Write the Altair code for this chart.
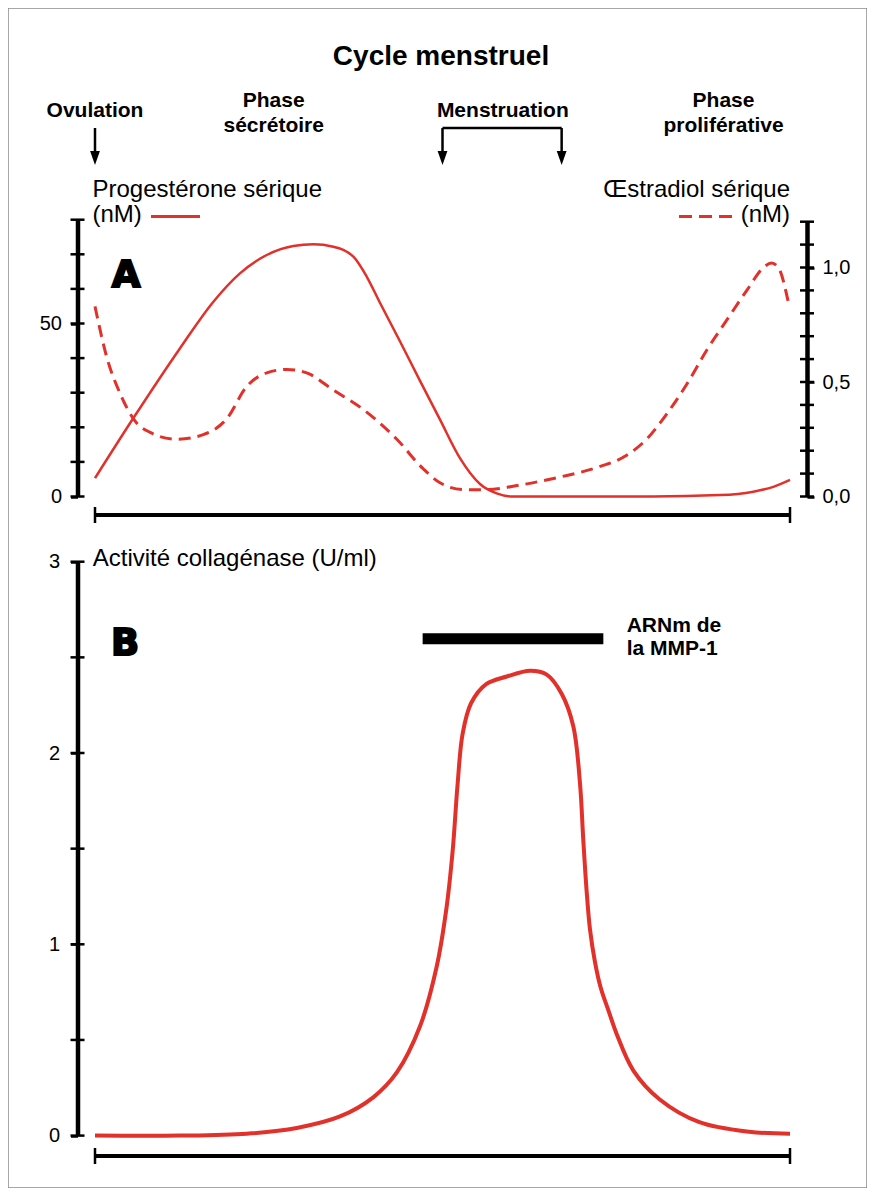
import altair as alt
import pandas as pd

# ---------------- data ----------------
# cycle day (ovulation = day 14, menstruation starts day 28)
prog_day = [14.0, 15.54, 17.42, 18.77, 19.84, 20.92, 21.99, 22.80, 23.60, 24.41, 24.95,
            25.48, 26.29, 27.09, 27.90, 28.71, 29.51, 30.18, 30.85, 33.5, 36.48, 39.18,
            40.52, 41.33, 42.0]
prog_val = [5.3, 22.6, 42.8, 56.3, 64.5, 69.8, 72.4, 72.9, 72.2, 69.3, 63.5,
            56.0, 44.8, 33.5, 22.2, 11.0, 3.6, 0.9, 0.0, 0.0, 0.0, 0.4,
            1.4, 2.8, 4.8]

estr_day = [14.0, 14.47, 15.01, 15.61, 16.22, 17.29, 18.36, 19.31, 20.11, 20.92, 21.72,
            22.53, 23.60, 24.81, 26.16, 27.23, 27.90, 28.84, 29.78, 31.12, 32.73, 34.32,
            35.42, 36.22, 37.03, 37.84, 38.65, 39.45, 40.26, 40.93, 41.26, 41.53, 41.93]
estr_val = [0.83, 0.61, 0.45, 0.33, 0.28, 0.25, 0.27, 0.34, 0.48, 0.54, 0.555,
            0.54, 0.465, 0.38, 0.25, 0.12, 0.06, 0.03, 0.03, 0.05, 0.085, 0.13,
            0.18, 0.25, 0.36, 0.49, 0.64, 0.77, 0.90, 1.00, 1.02, 1.00, 0.85]

coll_day = [14.0, 17.42, 20.11, 22.13, 23.87, 25.21, 26.16, 27.09, 27.76, 28.15, 28.41,
            28.61, 28.81, 29.15, 29.76, 30.59, 31.53, 32.20, 32.80, 33.27, 33.54, 33.67,
            33.80, 33.94, 34.14, 34.38, 34.67, 35.02, 35.69, 36.74, 38.35, 40.36, 42.0]
coll_val = [0.0, 0.0, 0.01, 0.04, 0.10, 0.20, 0.33, 0.57, 0.88, 1.18, 1.49,
            1.84, 2.10, 2.26, 2.36, 2.40, 2.43, 2.41, 2.31, 2.14, 1.84, 1.55,
            1.29, 1.08, 0.91, 0.77, 0.66, 0.53, 0.34, 0.19, 0.07, 0.02, 0.01]

prog_ticks = [0, 10, 20, 30, 40, 50, 60, 70, 80]
prog_labels = [0, 50]
estr_ticks = [0.0, 0.1, 0.2, 0.3, 0.4, 0.5, 0.6, 0.7, 0.8, 0.9, 1.0, 1.1, 1.2]
estr_labels = [0.0, 0.5, 1.0]
coll_ticks = [0, 0.5, 1, 1.5, 2, 2.5, 3]
coll_labels = [0, 1, 2, 3]

cycle_ends = [14, 42]
ovulation_day = [14]
menstruation_days = [28, 32.8]
mmp1_mrna = [27.2, 34.48]

# ---------------- styling ----------------
RED = "#e2302a"
FONT = "Liberation Sans"
ONE = pd.DataFrame({"k": [0]})

x_scale = alt.Scale(domain=[14, 42], range=[87, 782], nice=False, zero=False)
X = alt.X("day:Q", scale=x_scale, axis=None)
X2 = alt.X2("day2:Q")


def axis(orient, offset, values, pad, expr=None):
    kw = dict(orient=orient, offset=offset, values=values, title=None, grid=False,
              domainColor="black", domainWidth=4.5, tickColor="black", tickWidth=2.5,
              tickSize=7, labelFont=FONT, labelFontSize=20, labelColor="black",
              labelPadding=pad, labelFlush=False, labelOverlap=False)
    if expr:
        kw["labelExpr"] = expr
    return alt.Axis(**kw)


sc_p = alt.Scale(domain=[0, 80], range=[488.5, 211.7], nice=False, zero=False)
sc_e = alt.Scale(domain=[0, 1.2], range=[488.5, 213.7], nice=False, zero=False)
sc_c = alt.Scale(domain=[0, 3], range=[1127.6, 553.7], nice=False, zero=False)

Yp = alt.Y("val:Q", scale=sc_p, axis=axis("left", -69.5, prog_labels, 9))
Ye = alt.Y("val:Q", scale=sc_e, axis=axis("right", -60, estr_labels, 8,
                                           "replace(format(datum.value, '.1f'), '.', ',')"))
Yc = alt.Y("val:Q", scale=sc_c, axis=axis("left", -69.5, coll_labels, 11))

prog_df = pd.DataFrame({"day": prog_day, "val": prog_val})
estr_df = pd.DataFrame({"day": estr_day, "val": estr_val})
coll_df = pd.DataFrame({"day": coll_day, "val": coll_val})

layers = [
    alt.Chart(prog_df).mark_line(color=RED, strokeWidth=2.5, interpolate="monotone").encode(x=X, y=Yp),
    alt.Chart(estr_df).mark_line(color=RED, strokeWidth=3, strokeDash=[12, 7],
                                 interpolate="monotone").encode(x=X, y=Ye),
    alt.Chart(coll_df).mark_line(color=RED, strokeWidth=4, interpolate="catmull-rom").encode(x=X, y=Yc),
]


def ticks(vals, sc, xpos):
    # crossing tick marks ("+") on the vertical axis line
    return alt.Chart(pd.DataFrame({"val": vals})).mark_rule(
        color="black", strokeWidth=2.5
    ).encode(x=alt.value(xpos - 7), x2=alt.value(xpos + 7),
             y=alt.Y("val:Q", scale=sc, axis=None))


layers += [ticks(prog_ticks, sc_p, 69.5), ticks(estr_ticks, sc_e, 799), ticks(coll_ticks, sc_c, 69.5)]


def label(text, x, y, size, bold=False, align="center", font=FONT, **kw):
    return alt.Chart(ONE).mark_text(
        text=text, fontSize=size, fontWeight="bold" if bold else "normal", font=font,
        align=align, baseline="alphabetic", color="black", **kw
    ).encode(x=alt.value(x), y=alt.value(y))


layers += [
    label("Cycle menstruel", 433, 57, 28, bold=True),
    label("Ovulation", 87, 109, 21, bold=True),
    label("Phase", 265.7, 98.7, 21, bold=True),
    label("sécrétoire", 265.7, 123.7, 21, bold=True),
    label("Menstruation", 494.8, 109, 21, bold=True),
    label("Phase", 715.5, 98.7, 21, bold=True),
    label("proliférative", 715.5, 123.7, 21, bold=True),
    label("Progestérone sérique", 84.5, 189, 24, align="left"),
    label("(nM)", 84.5, 214, 24, align="left"),
    label("Œstradiol sérique", 782, 189, 24, align="right"),
    label("(nM)", 782, 214, 24, align="right"),
    label("Activité collagénase (U/ml)", 84.7, 558, 24, align="left"),
    label("ARNm de", 618.7, 624, 21, bold=True, align="left"),
    label("la MMP-1", 618.7, 647, 21, bold=True, align="left"),
    label("A", 118, 279, 37, bold=True, font="DejaVu Sans", stroke="black", strokeWidth=2),
    label("B", 117, 647, 37, bold=True, font="DejaVu Sans", stroke="black", strokeWidth=2),
]

# legend swatches
layers.append(alt.Chart(ONE).mark_rule(color=RED, strokeWidth=3).encode(
    x=alt.value(143), x2=alt.value(192), y=alt.value(208.5)))
layers.append(alt.Chart(ONE).mark_rule(color=RED, strokeWidth=3, strokeDash=[13, 7]).encode(
    x=alt.value(671), x2=alt.value(724), y=alt.value(208.5)))

# arrows (ovulation, menstruation bracket)
arrow_df = pd.DataFrame({"day": ovulation_day + menstruation_days})
layers.append(alt.Chart(arrow_df).mark_rule(color="black", strokeWidth=2.5).encode(
    x=X, y=alt.value(120), y2=alt.value(150)))
layers.append(alt.Chart(arrow_df).mark_point(
    shape="M-0.7,-1L0.7,-1L0,1Z", size=196, filled=True, color="black", opacity=1
).encode(x=X, y=alt.value(150)))
bracket_df = pd.DataFrame({"day": [menstruation_days[0]], "day2": [menstruation_days[1]]})
layers.append(alt.Chart(bracket_df).mark_rule(color="black", strokeWidth=2.5).encode(
    x=X, x2=X2, y=alt.value(120)))

# MMP-1 mRNA bar
mmp_df = pd.DataFrame({"day": [mmp1_mrna[0]], "day2": [mmp1_mrna[1]]})
layers.append(alt.Chart(mmp_df).mark_rule(color="black", strokeWidth=11).encode(
    x=X, x2=X2, y=alt.value(630.7)))

# time axes (bottom of each panel)
span_df = pd.DataFrame({"day": [cycle_ends[0]], "day2": [cycle_ends[1]]})
ends_df = pd.DataFrame({"day": cycle_ends})
for yb in (507, 1148):
    layers.append(alt.Chart(span_df).mark_rule(color="black", strokeWidth=4).encode(
        x=X, x2=X2, y=alt.value(yb)))
    layers.append(alt.Chart(ends_df).mark_rule(color="black", strokeWidth=2.5).encode(
        x=X, y=alt.value(yb - 8), y2=alt.value(yb + 8)))

chart = alt.layer(*layers).resolve_scale(
    y="independent"
).properties(
    width=859, height=1180, autosize=alt.AutoSizeParams(type="none"), padding=0
).configure_view(stroke="#8a8a8a", strokeWidth=1.5)

chart.save("out.html", embed_options={"renderer": "svg", "actions": False})
